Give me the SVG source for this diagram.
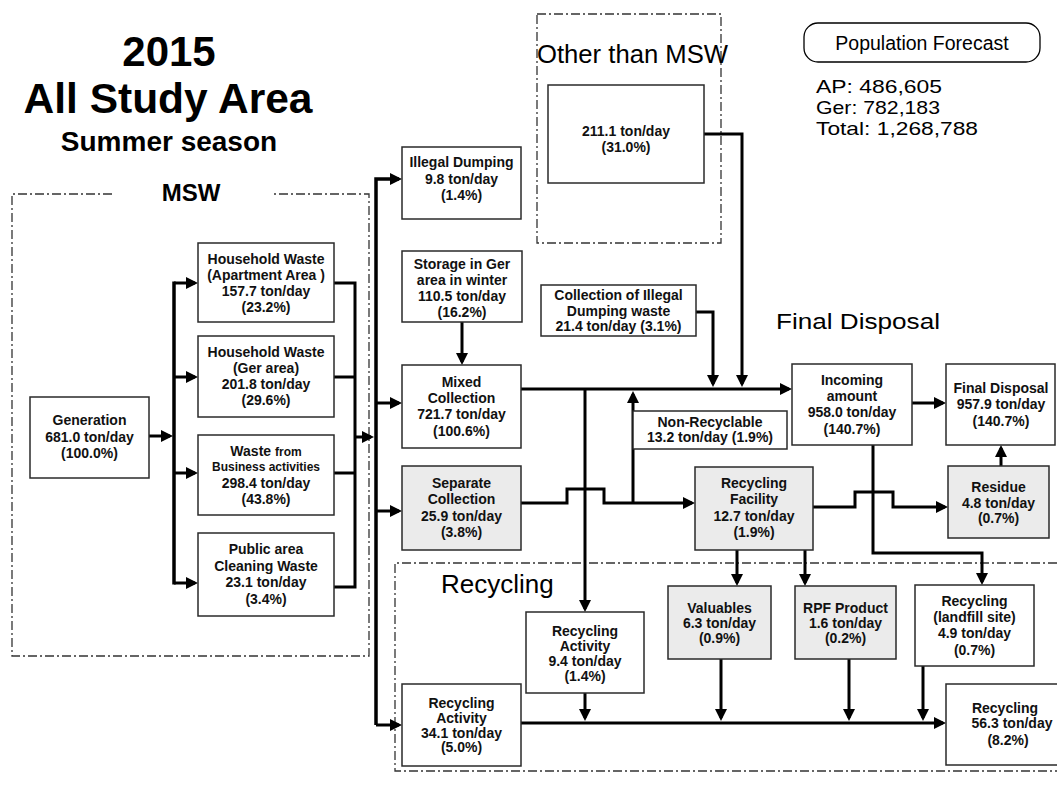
<svg xmlns="http://www.w3.org/2000/svg" width="1057" height="788" viewBox="0 0 1057 788">
  <defs>
    <style>
      .box { fill: #ffffff; stroke: #2a2a2a; stroke-width: 1.5; }
      .gbox { fill: #ebebeb; stroke: #2a2a2a; stroke-width: 1.5; }
      .t { font-family: "Liberation Sans", Arial, sans-serif; font-weight: bold; font-size: 14px; text-anchor: middle; fill: #111; }
      .sm { font-size: 12px; }
      .c { fill: none; stroke: #000; stroke-width: 3; }
      .a { fill: none; stroke: #000; stroke-width: 3; marker-end: url(#ah); }
      .bus { fill: none; stroke: #000; stroke-width: 3.5; }
      .d { fill: none; stroke: #333; stroke-width: 1.3; stroke-dasharray: 9 3 2 3; }
      .title { font-family: "Liberation Sans", Arial, sans-serif; font-weight: bold; text-anchor: middle; fill: #000; }
      .lbl { font-family: "Liberation Sans", Arial, sans-serif; fill: #000; }
    </style>
    <marker id="ah" markerUnits="userSpaceOnUse" markerWidth="12" markerHeight="12" refX="9" refY="6" orient="auto">
      <path d="M0,0 L12,6 L0,12 z" fill="#000"/>
    </marker>
  </defs>

  <rect x="0" y="0" width="1057" height="788" fill="#ffffff"/>

  <!-- headings -->
  <g id="heading">
    <text class="title" x="169" y="66" font-size="42">2015</text>
    <text class="title" x="168" y="113" font-size="42.5">All Study Area</text>
    <text class="title" x="169" y="151" font-size="28">Summer season</text>
  </g>

  <!-- area frames -->
  <g id="areas">
    <path class="d" d="M112 194 H12 V656 H369 V194 H272"/>
    <text class="lbl" x="191" y="201" font-size="24" font-weight="bold" text-anchor="middle">MSW</text>
    <rect class="d" x="537" y="14" width="184" height="229"/>
    <text class="lbl" x="537" y="63" font-size="25" textLength="191" lengthAdjust="spacingAndGlyphs">Other than MSW</text>
    <path class="d" d="M1057 563 H395 V771 H1057"/>
    <text class="lbl" x="441" y="593" font-size="26">Recycling</text>
    <text class="lbl" x="776" y="329" font-size="22" textLength="164" lengthAdjust="spacingAndGlyphs">Final Disposal</text>
  </g>

  <!-- population forecast -->
  <g id="population">
    <rect x="804" y="23" width="236" height="39" rx="14" ry="14" fill="#fff" stroke="#000" stroke-width="1.3"/>
    <text class="lbl" x="922" y="50" font-size="19.5" text-anchor="middle">Population Forecast</text>
    <text class="lbl" x="816" y="93" font-size="19" textLength="126" lengthAdjust="spacingAndGlyphs">AP: 486,605</text>
    <text class="lbl" x="816" y="114" font-size="19" textLength="124" lengthAdjust="spacingAndGlyphs">Ger: 782,183</text>
    <text class="lbl" x="816" y="135" font-size="19" textLength="162" lengthAdjust="spacingAndGlyphs">Total: 1,268,788</text>
  </g>

  <!-- connectors -->
  <g id="connectors">
    <!-- generation to source split -->
    <path class="a" d="M149 436 H170"/>
    <path class="bus" d="M174 281.5 V584.5"/>
    <path class="a" d="M174 283 H195"/>
    <path class="a" d="M174 377 H195"/>
    <path class="a" d="M174 473 H195"/>
    <path class="a" d="M174 583 H195"/>
    <!-- sources merge -->
    <path class="c" d="M334 283 H355 V587 H334"/>
    <path class="c" d="M334 377 H355"/>
    <path class="c" d="M334 473 H355"/>
    <path class="a" d="M355 437 H371"/>
    <!-- main distribution bus -->
    <path class="bus" d="M376 725 V179 H399" marker-end="url(#ah)"/>
    <path class="a" d="M376 403 H399"/>
    <path class="a" d="M376 511 H399"/>
    <path class="a" d="M376 725 H399"/>
    <!-- storage to mixed collection -->
    <path class="a" d="M462 322 V362"/>
    <!-- mixed collection to incoming amount -->
    <path class="a" d="M521 389 H789"/>
    <path class="a" d="M696 312 H713 V384"/>
    <path class="a" d="M704 134 H742 V384"/>
    <path class="a" d="M585 389 V609"/>
    <!-- separate collection to recycling facility -->
    <path class="a" d="M521 503 H567 V489 H604 V503 H692"/>
    <path class="a" d="M633 503 V394"/>
    <!-- recycling facility outputs -->
    <path class="a" d="M813 507 H855 V492 H893 V507 H945"/>
    <path class="a" d="M737 550 V583"/>
    <path class="a" d="M805 550 V583"/>
    <!-- incoming amount outputs -->
    <path class="a" d="M873 445 V553 H982 V582"/>
    <path class="a" d="M912 403 H943"/>
    <path class="a" d="M1001 466 V448"/>
    <!-- recycling collector -->
    <path class="a" d="M521 723 H943"/>
    <path class="a" d="M585 693 V718"/>
    <path class="a" d="M721 659 V718"/>
    <path class="a" d="M849 659 V718"/>
    <path class="a" d="M923 666 V718"/>
  </g>

  <!-- nodes -->
  <g id="generation">
    <rect class="box" x="30" y="397" width="119" height="81"/>
    <text class="t" x="89.5" y="425">Generation</text>
    <text class="t" x="89.5" y="442">681.0 ton/day</text>
    <text class="t" x="89.5" y="458">(100.0%)</text>
  </g>
  <g id="hw-apartment">
    <rect class="box" x="198" y="243" width="136" height="79"/>
    <text class="t" x="266" y="264">Household Waste</text>
    <text class="t" x="266" y="280">(Apartment Area )</text>
    <text class="t" x="266" y="296">157.7 ton/day</text>
    <text class="t" x="266" y="312">(23.2%)</text>
  </g>
  <g id="hw-ger">
    <rect class="box" x="198" y="336" width="136" height="81"/>
    <text class="t" x="266" y="357">Household Waste</text>
    <text class="t" x="266" y="373">(Ger area)</text>
    <text class="t" x="266" y="389">201.8 ton/day</text>
    <text class="t" x="266" y="405">(29.6%)</text>
  </g>
  <g id="business">
    <rect class="box" x="198" y="435" width="136" height="80"/>
    <text class="t" x="266" y="456">Waste <tspan class="sm">from</tspan></text>
    <text class="t sm" x="266" y="471">Business activities</text>
    <text class="t" x="266" y="488">298.4 ton/day</text>
    <text class="t" x="266" y="504">(43.8%)</text>
  </g>
  <g id="public-area">
    <rect class="box" x="198" y="533" width="136" height="83"/>
    <text class="t" x="266" y="554">Public area</text>
    <text class="t" x="266" y="571">Cleaning Waste</text>
    <text class="t" x="266" y="587">23.1 ton/day</text>
    <text class="t" x="266" y="604">(3.4%)</text>
  </g>
  <g id="illegal-dumping">
    <rect class="box" x="402" y="147" width="119" height="72"/>
    <text class="t" x="461.5" y="167">Illegal Dumping</text>
    <text class="t" x="461.5" y="184">9.8 ton/day</text>
    <text class="t" x="461.5" y="200">(1.4%)</text>
  </g>
  <g id="storage">
    <rect class="box" x="402" y="251" width="120" height="71"/>
    <text class="t" x="462" y="269">Storage in Ger</text>
    <text class="t" x="462" y="285">area in winter</text>
    <text class="t" x="462" y="301">110.5 ton/day</text>
    <text class="t" x="462" y="317">(16.2%)</text>
  </g>
  <g id="mixed-collection">
    <rect class="box" x="402" y="365" width="119" height="83"/>
    <text class="t" x="461.5" y="387">Mixed</text>
    <text class="t" x="461.5" y="403">Collection</text>
    <text class="t" x="461.5" y="419">721.7 ton/day</text>
    <text class="t" x="461.5" y="436">(100.6%)</text>
  </g>
  <g id="separate-collection">
    <rect class="gbox" x="402" y="466" width="119" height="84"/>
    <text class="t" x="461.5" y="488">Separate</text>
    <text class="t" x="461.5" y="504">Collection</text>
    <text class="t" x="461.5" y="521">25.9 ton/day</text>
    <text class="t" x="461.5" y="537">(3.8%)</text>
  </g>
  <g id="recycling-activity-a">
    <rect class="box" x="402" y="684" width="119" height="82"/>
    <text class="t" x="461.5" y="708">Recycling</text>
    <text class="t" x="461.5" y="723">Activity</text>
    <text class="t" x="461.5" y="738">34.1 ton/day</text>
    <text class="t" x="461.5" y="752">(5.0%)</text>
  </g>
  <g id="recycling-activity-b">
    <rect class="box" x="526" y="612" width="118" height="81"/>
    <text class="t" x="585" y="636">Recycling</text>
    <text class="t" x="585" y="651">Activity</text>
    <text class="t" x="585" y="666">9.4 ton/day</text>
    <text class="t" x="585" y="681">(1.4%)</text>
  </g>
  <g id="other-than-msw">
    <rect class="box" x="548" y="85" width="156" height="98"/>
    <text class="t" x="626" y="136" font-size="12.5">211.1 ton/day</text>
    <text class="t" x="626" y="152" font-size="12.5">(31.0%)</text>
  </g>
  <g id="illegal-collection">
    <rect class="box" x="541" y="285" width="155" height="51"/>
    <text class="t" x="618.5" y="300">Collection of Illegal</text>
    <text class="t" x="618.5" y="316">Dumping waste</text>
    <text class="t" x="618.5" y="331">21.4 ton/day (3.1%)</text>
  </g>
  <g id="non-recyclable">
    <rect class="box" x="633" y="411" width="154" height="38"/>
    <text class="t" x="710" y="427">Non-Recyclable</text>
    <text class="t" x="710" y="442">13.2 ton/day (1.9%)</text>
  </g>
  <g id="recycling-facility">
    <rect class="gbox" x="695" y="467" width="118" height="83"/>
    <text class="t" x="754" y="488">Recycling</text>
    <text class="t" x="754" y="504">Facility</text>
    <text class="t" x="754" y="521">12.7 ton/day</text>
    <text class="t" x="754" y="537">(1.9%)</text>
  </g>
  <g id="valuables">
    <rect class="gbox" x="668" y="586" width="103" height="73"/>
    <text class="t" x="719.5" y="613">Valuables</text>
    <text class="t" x="719.5" y="628">6.3 ton/day</text>
    <text class="t" x="719.5" y="643">(0.9%)</text>
  </g>
  <g id="rpf-product">
    <rect class="gbox" x="795" y="586" width="101" height="73"/>
    <text class="t" x="845.5" y="613">RPF Product</text>
    <text class="t" x="845.5" y="628">1.6 ton/day</text>
    <text class="t" x="845.5" y="643">(0.2%)</text>
  </g>
  <g id="recycling-landfill">
    <rect class="box" x="915" y="585" width="119" height="81"/>
    <text class="t" x="974.5" y="606">Recycling</text>
    <text class="t" x="974.5" y="622">(landfill site)</text>
    <text class="t" x="974.5" y="638">4.9 ton/day</text>
    <text class="t" x="974.5" y="655">(0.7%)</text>
  </g>
  <g id="incoming-amount">
    <rect class="box" x="792" y="364" width="120" height="81"/>
    <text class="t" x="852" y="385">Incoming</text>
    <text class="t" x="852" y="401">amount</text>
    <text class="t" x="852" y="417">958.0 ton/day</text>
    <text class="t" x="852" y="434">(140.7%)</text>
  </g>
  <g id="final-disposal">
    <rect class="box" x="946" y="364" width="109" height="81"/>
    <text class="t" x="1001" y="393">Final Disposal</text>
    <text class="t" x="1001" y="409">957.9 ton/day</text>
    <text class="t" x="1001" y="426">(140.7%)</text>
  </g>
  <g id="residue">
    <rect class="gbox" x="948" y="466" width="101" height="72"/>
    <text class="t" x="998.5" y="492">Residue</text>
    <text class="t" x="998.5" y="508">4.8 ton/day</text>
    <text class="t" x="998.5" y="523">(0.7%)</text>
  </g>
  <g id="recycling-total">
    <rect class="box" x="946" y="684" width="129" height="81"/>
    <text class="t" x="1005" y="713">Recycling</text>
    <text class="t" x="1012" y="728">56.3 ton/day</text>
    <text class="t" x="1008" y="745">(8.2%)</text>
  </g>
</svg>
